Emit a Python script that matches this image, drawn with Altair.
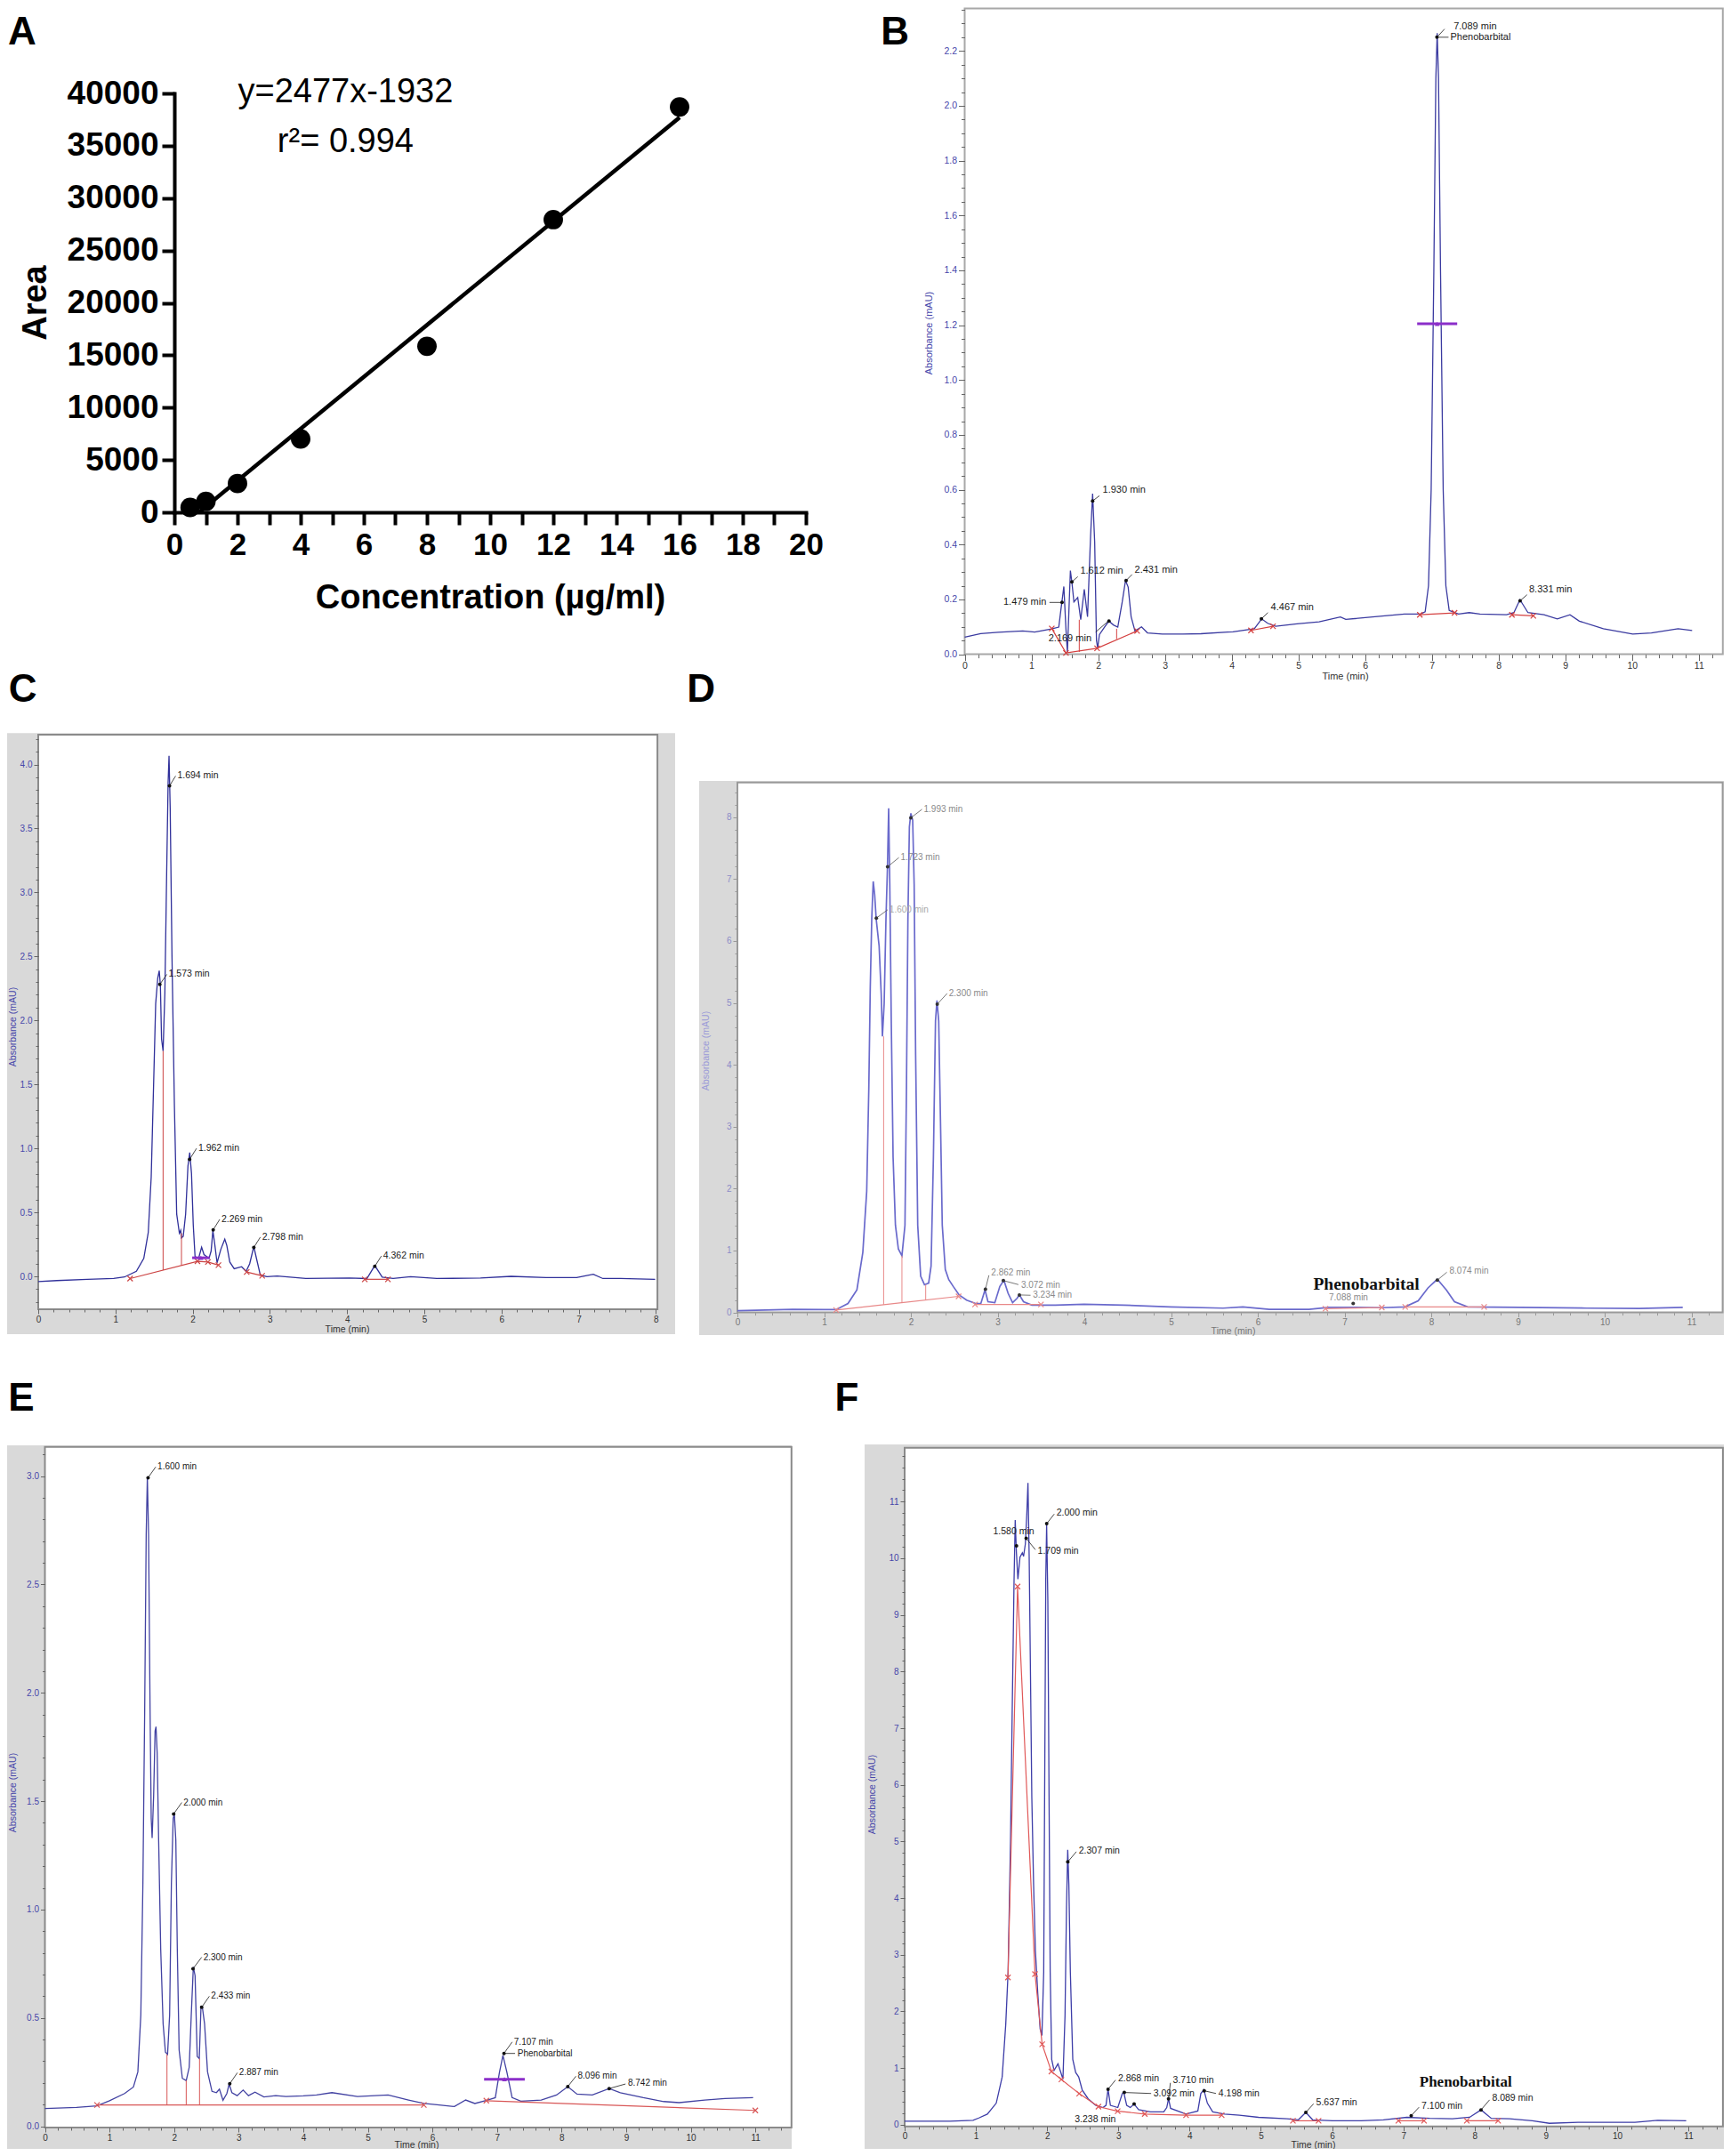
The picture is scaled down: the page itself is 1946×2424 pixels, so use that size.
import altair as alt
import pandas as pd

W, H = 1930, 2408
SANS = "Liberation Sans, Arial, Helvetica, sans-serif"
SERIF = "Liberation Serif, Times New Roman, serif"
PURPLE = "#8b2fc9"
XSHAPE = "M-1,-1L1,1M-1,1L1,-1"

# ======================= DATA =======================
# ---- Panel A : calibration curve ----
CONC = [0.5, 1, 2, 4, 8, 12, 16]
AREA = [470, 1050, 2750, 7000, 15850, 27950, 38700]
FIT_X = [0.8, 16.0]
FIT_Y = [50, 37700]
A_XTICKS = list(range(0, 21))
A_YTICKS = [0, 5000, 10000, 15000, 20000, 25000, 30000, 35000, 40000]
A_NOTES = ["y=2477x-1932", "r\u00b2= 0.994"]
A_NOTE_X = [5.42, 5.42]
A_NOTE_Y = [39170, 34410]

# ---- Panel B ----
B_T = [0.00, 0.24, 0.50, 0.87, 1.05, 1.30, 1.41, 1.44, 1.486, 1.517, 1.539, 1.584, 1.606, 1.637, 1.694,
       1.739, 1.792, 1.841, 1.886, 1.917, 1.948, 1.975, 1.993, 2.019, 2.095, 2.161, 2.228, 2.294, 2.361,
       2.410, 2.450, 2.494, 2.552, 2.65, 2.739, 2.962, 3.27, 3.54, 3.94, 4.02, 4.34, 4.45, 4.54, 4.66,
       4.98, 5.31, 5.63, 5.71, 6.11, 6.59, 6.83, 6.90, 6.95, 6.99, 7.03, 7.06, 7.08, 7.10, 7.13, 7.17,
       7.21, 7.26, 7.40, 7.56, 7.72, 8.12, 8.23, 8.32, 8.44, 8.68, 8.88, 9.07, 9.21, 9.57, 10.01, 10.29,
       10.69, 10.90]
B_V = [0.062, 0.075, 0.080, 0.085, 0.081, 0.092, 0.099, 0.159, 0.247, 0.094, 0.007, 0.305, 0.264, 0.191,
       0.207, 0.126, 0.237, 0.137, 0.429, 0.586, 0.408, 0.050, 0.023, 0.072, 0.099, 0.121, 0.107, 0.099,
       0.191, 0.269, 0.245, 0.137, 0.085, 0.100, 0.078, 0.074, 0.074, 0.075, 0.081, 0.082, 0.093, 0.129,
       0.113, 0.102, 0.111, 0.118, 0.136, 0.127, 0.136, 0.147, 0.147, 0.155, 0.25, 0.6, 1.4, 2.1, 2.265,
       2.1, 1.4, 0.6, 0.25, 0.16, 0.147, 0.152, 0.147, 0.144, 0.152, 0.199, 0.152, 0.144, 0.129, 0.144,
       0.121, 0.093, 0.074, 0.078, 0.093, 0.087]
B_BASE = [[(1.305, 0.094), (1.518, 0.005), (1.984, 0.022), (2.584, 0.085)],
          [(4.29, 0.087), (4.62, 0.102)],
          [(6.82, 0.144), (7.34, 0.151)],
          [(8.20, 0.144), (8.52, 0.140)]]
B_DROPS = [(1.717, 0.0085, 0.126), (2.277, 0.055, 0.093)]
B_BAR = (6.78, 7.38, 1.205)
B_DOT_T = [7.076, 1.917, 1.606, 2.419, 2.162, 1.459, 4.446, 8.322]
B_DOT_V = [2.25, 0.559, 0.264, 0.269, 0.121, 0.189, 0.129, 0.195]
B_LEAD = [(7.076, 2.25, 7.19, 2.28), (7.076, 2.25, 7.25, 2.25), (1.917, 0.559, 2.019, 0.578),
          (1.606, 0.264, 1.695, 0.283), (2.419, 0.269, 2.508, 0.291), (1.962, 0.081, 2.139, 0.118),
          (1.27, 0.189, 1.447, 0.189), (4.446, 0.129, 4.543, 0.152), (8.322, 0.195, 8.426, 0.217)]
B_LAB = ["7.089 min", "Phenobarbital", "1.930 min", "1.612 min", "2.431 min", "2.169 min", "4.467 min", "8.331 min"]
B_LAB_T = [7.30, 7.25, 2.04, 1.705, 2.52, 1.229, 4.56, 8.43]
B_LAB_V = [2.29, 2.25, 0.598, 0.303, 0.308, 0.058, 0.171, 0.234]
B_RLAB = ["1.479 min"]
B_RLAB_T = [1.25]
B_RLAB_V = [0.189]
B_XMAJOR = list(range(0, 12))
B_YMAJOR = [0.0, 0.2, 0.4, 0.6, 0.8, 1.0, 1.2, 1.4, 1.6, 1.8, 2.0, 2.2]

# ---- Panel C ----
C_T = [0.0, 0.24, 0.636, 0.976, 1.117, 1.271, 1.367, 1.425, 1.463, 1.494, 1.521, 1.548, 1.567, 1.582,
       1.597, 1.617, 1.640, 1.663, 1.682, 1.694, 1.709, 1.732, 1.763, 1.793, 1.828, 1.845, 1.855, 1.878,
       1.909, 1.939, 1.962, 1.985, 2.008, 2.031, 2.077, 2.116, 2.147, 2.212, 2.239, 2.262, 2.285, 2.316,
       2.366, 2.416, 2.442, 2.481, 2.538, 2.634, 2.692, 2.738, 2.792, 2.826, 2.876, 2.961, 3.095, 3.465,
       4.031, 4.257, 4.359, 4.455, 4.597, 4.823, 5.162, 5.728, 6.124, 6.577, 6.973, 7.189, 7.313, 7.539,
       7.99]
C_V = [-0.040, -0.033, -0.023, -0.017, -0.005, 0.040, 0.141, 0.343, 0.775, 1.496, 2.130, 2.332, 2.389,
       2.274, 1.856, 1.761, 2.216, 3.139, 3.860, 4.067, 3.658, 2.505, 1.352, 0.487, 0.337, 0.36, 0.30,
       0.314, 0.487, 0.862, 0.968, 0.804, 0.400, 0.155, 0.141, 0.227, 0.170, 0.141, 0.198, 0.357, 0.256,
       0.106, 0.213, 0.291, 0.242, 0.112, 0.060, 0.075, 0.040, 0.098, 0.233, 0.141, 0.011, -0.003, 0.003,
       -0.017, -0.013, -0.017, 0.085, -0.006, -0.017, -0.003, -0.017, -0.013, 0.0, -0.010, -0.010, 0.017,
       -0.017, -0.017, -0.023]
C_BASE = [[(1.19, -0.017), (2.062, 0.118), (2.198, 0.112), (2.334, 0.088)],
          [(2.70, 0.034), (2.90, 0.004)],
          [(4.229, -0.023), (4.529, -0.023)]]
C_DROPS = [(1.617, 0.049, 1.761), (1.855, 0.086, 0.337)]
C_BAR = (1.994, 2.22, 0.145)
C_DOT_T = [1.70, 1.575, 1.96, 2.266, 2.792, 4.359]
C_DOT_V = [3.833, 2.282, 0.914, 0.364, 0.226, 0.078]
C_LAB = ["1.694 min", "1.573 min", "1.962 min", "2.269 min", "2.798 min", "4.362 min"]
C_LAB_T = [1.779, 1.666, 2.05, 2.35, 2.877, 4.444]
C_LAB_V = [3.910, 2.360, 1.0, 0.445, 0.307, 0.159]
C_XMAJOR = list(range(0, 9))
C_YMAJOR = [0.0, 0.5, 1.0, 1.5, 2.0, 2.5, 3.0, 3.5, 4.0]

# ---- Panel D ----
D_T = [0.0, 0.64, 1.0, 1.138, 1.275, 1.378, 1.446, 1.491, 1.515, 1.532, 1.549, 1.566, 1.583, 1.60, 1.634,
       1.658, 1.672, 1.692, 1.713, 1.730, 1.744, 1.757, 1.774, 1.795, 1.822, 1.856, 1.897, 1.932, 1.949,
       1.966, 1.983, 2.0, 2.021, 2.038, 2.055, 2.079, 2.113, 2.157, 2.205, 2.233, 2.26, 2.284, 2.301,
       2.321, 2.342, 2.362, 2.397, 2.437, 2.489, 2.557, 2.643, 2.745, 2.807, 2.855, 2.889, 2.968, 3.026,
       3.073, 3.121, 3.173, 3.224, 3.251, 3.299, 3.395, 3.668, 3.997, 4.455, 4.99, 5.6, 5.828, 6.133, 6.59,
       6.82, 7.124, 7.429, 7.696, 7.849, 7.963, 8.07, 8.176, 8.268, 8.42, 9.03, 9.793, 10.40, 10.90]
D_V = [0.028, 0.049, 0.045, 0.046, 0.145, 0.365, 0.97, 1.96, 3.61, 5.26, 6.36, 6.963, 6.743, 6.358, 5.918,
       5.149, 4.461, 4.984, 6.358, 7.183, 8.145, 6.908, 4.709, 2.51, 1.41, 1.025, 0.915, 1.41, 3.61, 6.358,
       7.842, 8.062, 7.952, 6.908, 4.159, 1.41, 0.585, 0.448, 0.475, 0.75, 2.51, 4.709, 5.04, 4.709, 3.06,
       1.41, 0.695, 0.53, 0.42, 0.283, 0.2, 0.145, 0.145, 0.365, 0.173, 0.157, 0.42, 0.52, 0.31, 0.157,
       0.228, 0.283, 0.173, 0.118, 0.118, 0.132, 0.118, 0.09, 0.07, 0.09, 0.049, 0.049, 0.083, 0.083,
       0.077, 0.09, 0.188, 0.397, 0.536, 0.362, 0.174, 0.09, 0.083, 0.07, 0.063, 0.083]
D_BASE = [[(1.138, 0.04), (2.55, 0.26)], [(2.74, 0.13), (3.5, 0.13)],
          [(6.78, 0.06), (7.43, 0.08)], [(7.70, 0.09), (8.61, 0.09)]]
D_DROPS = [(1.686, 0.125, 4.46), (1.897, 0.158, 0.915), (2.171, 0.201, 0.448)]
D_DOT_T = [2.0, 1.732, 1.602, 2.304, 2.86, 3.066, 3.251, 7.1, 8.07]
D_DOT_V = [7.99, 7.2, 6.37, 4.979, 0.376, 0.515, 0.283, 0.146, 0.522]
D_LEAD = [(2.0, 7.99, 2.128, 8.127), (1.732, 7.2, 1.862, 7.347), (1.602, 6.37, 1.732, 6.504),
          (2.304, 4.979, 2.418, 5.153), (2.86, 0.376, 2.9, 0.6), (3.066, 0.515, 3.24, 0.45),
          (3.251, 0.283, 3.38, 0.278), (8.07, 0.522, 8.18, 0.65)]
D_LAB = ["1.993 min", "1.723 min", "2.300 min", "2.862 min", "3.072 min", "3.234 min", "7.088 min", "8.074 min"]
D_LAB_T = [2.128, 1.862, 2.418, 2.906, 3.25, 3.387, 6.80, 8.19]
D_LAB_V = [8.127, 7.347, 5.153, 0.64, 0.438, 0.278, 0.235, 0.675]
D_FAINT = ["1.600 min"]
D_FAINT_T = [1.732]
D_FAINT_V = [6.504]
D_SERIF = ["Phenobarbital"]
D_SERIF_T = [6.64]
D_SERIF_V = [0.46]
D_XMAJOR = list(range(0, 12))
D_YMAJOR = list(range(0, 9))

# ---- Panel E ----
E_T = [0.0, 0.49, 0.807, 1.00, 1.233, 1.37, 1.439, 1.485, 1.517, 1.545, 1.568, 1.586, 1.605, 1.628, 1.646,
       1.66, 1.683, 1.706, 1.72, 1.738, 1.761, 1.793, 1.83, 1.866, 1.899, 1.931, 1.958, 1.986, 2.004, 2.027,
       2.05, 2.078, 2.128, 2.188, 2.234, 2.266, 2.298, 2.325, 2.358, 2.39, 2.417, 2.436, 2.472, 2.518,
       2.587, 2.656, 2.702, 2.757, 2.817, 2.853, 2.895, 2.977, 3.069, 3.152, 3.253, 3.391, 3.574, 3.732,
       4.0, 4.206, 4.444, 4.839, 5.314, 5.63, 5.867, 6.104, 6.341, 6.515, 6.657, 6.855, 6.974, 7.037,
       7.092, 7.155, 7.234, 7.369, 7.685, 7.922, 8.096, 8.239, 8.476, 8.737, 8.91, 9.266, 9.582, 9.82,
       10.215, 10.53, 10.966]
E_V = [0.082, 0.087, 0.094, 0.118, 0.151, 0.181, 0.251, 0.513, 1.118, 1.925, 2.731, 2.997, 2.731, 1.925,
       1.421, 1.33, 1.522, 1.824, 1.844, 1.723, 1.32, 0.816, 0.473, 0.342, 0.332, 0.513, 1.118, 1.421,
       1.441, 1.32, 0.816, 0.352, 0.221, 0.211, 0.272, 0.513, 0.735, 0.695, 0.322, 0.312, 0.554, 0.554,
       0.473, 0.251, 0.161, 0.155, 0.171, 0.12, 0.151, 0.195, 0.155, 0.141, 0.167, 0.141, 0.157, 0.135,
       0.141, 0.137, 0.14, 0.144, 0.155, 0.137, 0.144, 0.121, 0.105, 0.098, 0.091, 0.121, 0.105, 0.121,
       0.132, 0.247, 0.327, 0.247, 0.132, 0.116, 0.121, 0.144, 0.183, 0.148, 0.144, 0.174, 0.155, 0.132,
       0.114, 0.109, 0.121, 0.128, 0.132]
E_BASE = [[(0.807, 0.098), (5.867, 0.098)], [(6.835, 0.118), (11.0, 0.073)]]
E_DROPS = [(1.89, 0.098, 0.332), (2.188, 0.098, 0.211), (2.394, 0.098, 0.312)]
E_BAR = (6.80, 7.43, 0.217)
E_DOT_T = [1.597, 1.993, 2.293, 2.427, 2.862, 7.108, 8.096, 8.737]
E_DOT_V = [2.993, 1.441, 0.727, 0.549, 0.196, 0.336, 0.183, 0.174]
E_LEAD = [(1.597, 2.993, 1.716, 3.043), (1.993, 1.441, 2.119, 1.494), (2.293, 0.727, 2.427, 0.78),
          (2.427, 0.549, 2.546, 0.6), (2.862, 0.196, 2.98, 0.247), (7.108, 0.336, 7.235, 0.389),
          (7.108, 0.336, 7.28, 0.336), (8.096, 0.183, 8.223, 0.231), (8.737, 0.174, 8.99, 0.195)]
E_LAB = ["1.600 min", "2.000 min", "2.300 min", "2.433 min", "2.887 min", "7.107 min", "Phenobarbital",
         "8.096 min", "8.742 min"]
E_LAB_T = [1.716, 2.119, 2.427, 2.546, 2.98, 7.235, 7.29, 8.223, 9.0]
E_LAB_V = [3.043, 1.494, 0.78, 0.6, 0.247, 0.389, 0.336, 0.231, 0.201]
E_XMAJOR = list(range(0, 12))
E_YMAJOR = [0.0, 0.5, 1.0, 1.5, 2.0, 2.5, 3.0]

# ---- Panel F ----
F_T = [0.0, 0.64, 0.96, 1.041, 1.161, 1.286, 1.369, 1.419, 1.452, 1.486, 1.51, 1.536, 1.552, 1.569, 1.59,
       1.619, 1.652, 1.669, 1.694, 1.715, 1.731, 1.748, 1.765, 1.785, 1.81, 1.835, 1.869, 1.902, 1.927,
       1.952, 1.968, 1.981, 1.993, 2.01, 2.027, 2.043, 2.064, 2.097, 2.152, 2.193, 2.222, 2.251, 2.272,
       2.289, 2.305, 2.326, 2.36, 2.401, 2.443, 2.493, 2.576, 2.68, 2.784, 2.826, 2.855, 2.888, 2.992,
       3.055, 3.075, 3.117, 3.167, 3.221, 3.284, 3.45, 3.637, 3.679, 3.704, 3.733, 3.949, 4.115, 4.157,
       4.199, 4.249, 4.324, 4.49, 4.698, 4.966, 5.366, 5.527, 5.631, 5.727, 6.007, 6.408, 6.72, 7.048,
       7.369, 7.689, 7.93, 8.09, 8.234, 8.49, 8.81, 9.05, 9.452, 10.25, 10.57, 10.97]
F_V = [0.062, 0.062, 0.079, 0.12, 0.189, 0.382, 0.844, 1.77, 2.694, 5.007, 7.32, 9.632, 10.673, 10.095,
       9.632, 10.018, 10.095, 10.033, 10.249, 10.789, 11.328, 10.018, 8.09, 5.778, 4.236, 3.079, 2.309,
       1.692, 1.576, 2.694, 6.548, 9.632, 10.596, 9.247, 5.778, 2.694, 1.152, 0.959, 1.075, 0.921, 0.805,
       1.923, 3.85, 4.853, 4.236, 2.694, 1.152, 0.921, 0.844, 0.612, 0.458, 0.343, 0.304, 0.343, 0.628,
       0.343, 0.304, 0.551, 0.574, 0.343, 0.304, 0.366, 0.266, 0.227, 0.227, 0.304, 0.458, 0.289, 0.189,
       0.243, 0.551, 0.62, 0.382, 0.227, 0.189, 0.170, 0.132, 0.106, 0.088, 0.219, 0.088, 0.07, 0.07,
       0.088, 0.132, 0.114, 0.106, 0.132, 0.263, 0.114, 0.106, 0.07, 0.026, 0.044, 0.044, 0.079, 0.07]
F_BASE = [[(1.45, 2.6), (1.585, 9.5), (1.83, 2.66), (1.93, 1.42), (2.06, 0.94), (2.2, 0.8), (2.45, 0.55),
           (2.72, 0.32), (2.99, 0.24), (3.37, 0.19), (3.95, 0.17), (4.45, 0.17)],
          [(5.45, 0.07), (5.81, 0.07)], [(6.93, 0.07), (7.29, 0.07)], [(7.89, 0.07), (8.33, 0.07)]]
F_DOT_T = [1.994, 1.57, 1.706, 2.29, 2.855, 3.083, 3.221, 3.704, 4.205, 5.631, 7.11, 8.09]
F_DOT_V = [10.61, 10.22, 10.35, 4.64, 0.628, 0.57, 0.366, 0.458, 0.6, 0.219, 0.16, 0.263]
F_LEAD = [(1.994, 10.61, 2.1, 10.78), (1.706, 10.35, 1.835, 10.15), (2.29, 4.64, 2.41, 4.82),
          (2.855, 0.628, 2.96, 0.79), (3.083, 0.57, 3.46, 0.552), (3.704, 0.458, 3.73, 0.74),
          (4.205, 0.6, 4.37, 0.552), (5.631, 0.219, 5.74, 0.37), (7.11, 0.16, 7.22, 0.31),
          (8.09, 0.263, 8.21, 0.44)]
F_LAB = ["2.000 min", "1.580 min", "1.709 min", "2.307 min", "2.868 min", "3.092 min", "3.238 min",
         "3.710 min", "4.198 min", "5.637 min", "7.100 min", "8.089 min"]
F_LAB_T = [2.107, 1.217, 1.842, 2.419, 2.97, 3.468, 2.363, 3.74, 4.38, 5.75, 7.23, 8.22]
F_LAB_V = [10.80, 10.475, 10.125, 4.84, 0.814, 0.552, 0.088, 0.78, 0.552, 0.394, 0.333, 0.465]
F_SERIF = ["Phenobarbital"]
F_SERIF_T = [7.226]
F_SERIF_V = [0.745]
F_XMAJOR = list(range(0, 12))
F_YMAJOR = list(range(0, 12))


def steps(a, b, s):
    n = int(round((b - a) / s))
    return [round(a + i * s, 4) for i in range(n + 1)]


# ======================= LAYOUT (pixel geometry) =======================
GEO = {
    "A": dict(xd=[0, 20], xr=[188, 898], yd=[0, 40000], yr=[568, 97], letter=(-4.82, 45775)),
    "B": dict(xd=[0, 11.36], xr=[1076.5, 1928.8], yd=[0, 2.355], yr=[727.6, 1.5],
              letter=(-1.046, 2.266), yt=(-40.5, 366), xt=(1504, 25)),
    "C": dict(xd=[0, 8.02], xr=[35, 731.1], yd=[-0.257, 4.233], yr=[1464, 818],
              bg=(-0.403, 8.249, -0.452, 4.246), letter=(-0.200, 4.58), yt=(-29, 1146), xt=(382, 22)),
    "D": dict(xd=[0, 11.36], xr=[821, 1928.6], yd=[0, 8.56], yr=[1467.6, 871.8],
              bg=(-0.441, 11.456, -0.365, 8.586), letter=(-0.42, 10.05), yt=(-36, 1173), xt=(1378, 20.4)),
    "E": dict(xd=[0, 11.56], xr=[42.5, 881.8], yd=[-0.006, 3.135], yr=[2384, 1618.8],
              bg=(-0.599, 11.563, -0.1375, 3.142), letter=(-0.365, 3.356), yt=(-36.5, 2007), xt=(460, 19)),
    "F": dict(xd=[0, 11.485], xr=[1009, 1928.9], yd=[-0.03, 11.95], yr=[2382.8, 1619.7],
              bg=(-0.562, 11.598, -0.52, 12.008), letter=(-0.811, 12.81), yt=(-37, 2009), xt=(1468, 20.2)),
}

BASE_STYLE = dict(bg="#d9d9d9", frame="#8a8a8a", trace="#3a3aa0", tw=1.3, red="#d44040", ink="#1a1a1a",
                  dot="#111111", lfs=10.5, fs=10, tfs=10.5, xlab="#333333", ylab="#4646aa", ytitle="#4646aa",
                  tick="#666666", major=5, minor=3, yfmt=".1f")
STYLE = {
    "B": dict(BASE_STYLE, bg=None, frame="#a8a8a8", trace="#3a3aa0", lfs=11, fs=10.5, tfs=11, major=7, minor=4),
    "C": dict(BASE_STYLE, trace="#30309a", red="#cc4444"),
    "D": dict(BASE_STYLE, frame="#9a9a9a", trace="#6a6acc", tw=1.7, red="#e88888", ink="#8a8a8a",
              dot="#333333", lfs=10, xlab="#777777", ylab="#8c8cc8", ytitle="#9a9ad8", tick="#999999", yfmt="d"),
    "E": dict(BASE_STYLE, trace="#4242a2", red="#d85656", lfs=10),
    "F": dict(BASE_STYLE, trace="#3d3da8", red="#e05858", yfmt="d"),
}


def sc(dom, rng):
    return alt.Scale(domain=dom, range=rng, nice=False, zero=False)


def XE(p, f, axis=None):
    g = GEO[p]
    return alt.X(f + ":Q", scale=sc(g["xd"], g["xr"]), axis=axis)


def YE(p, f, axis=None):
    g = GEO[p]
    return alt.Y(f + ":Q", scale=sc(g["yd"], g["yr"]), axis=axis)


def x_axis(p, values, minor):
    g, st = GEO[p], STYLE[p]
    kw = dict(orient="bottom", offset=g["yr"][0] - H, values=values, domain=False, grid=False,
              tickColor=st["tick"], tickWidth=1, zindex=1, labelFlush=False, labelOverlap=False)
    if minor:
        kw.update(tickSize=st["minor"], labels=False, title=None)
    else:
        kw.update(tickSize=st["major"], format="d", labelFont=SANS, labelFontSize=st["fs"],
                  labelColor=st["xlab"], labelPadding=1, title="Time (min)", titleFont=SANS,
                  titleFontSize=st["tfs"], titleFontWeight="normal", titleColor=st["xlab"],
                  titleX=g["xt"][0], titleY=g["xt"][1], titleAlign="center", titleBaseline="middle")
    return alt.Axis(**kw)


def y_axis(p, values, minor):
    g, st = GEO[p], STYLE[p]
    kw = dict(orient="left", offset=-g["xr"][0], values=values, domain=False, grid=False,
              tickColor=st["tick"], tickWidth=1, zindex=1, labelFlush=False, labelOverlap=False)
    if minor:
        kw.update(tickSize=st["minor"], labels=False, title=None)
    else:
        kw.update(tickSize=st["major"], format=st["yfmt"], labelFont=SANS, labelFontSize=st["fs"],
                  labelColor=st["ylab"], labelPadding=2, title="Absorbance (mAU)", titleFont=SANS,
                  titleFontSize=st["tfs"], titleFontWeight="normal", titleColor=st["ytitle"],
                  titleX=g["yt"][0], titleY=g["yt"][1], titleAngle=270, titleAlign="center",
                  titleBaseline="middle")
    return alt.Axis(**kw)


def base_df(segs):
    rows = []
    for k, seg in enumerate(segs):
        for i, (t, v) in enumerate(seg):
            rows.append({"t": t, "v": v, "seg": k, "o": i})
    return pd.DataFrame(rows)


def letter_layer(p):
    g = GEO[p]
    df = pd.DataFrame({"s": [p], "t": [g["letter"][0]], "v": [g["letter"][1]]})
    return alt.Chart(df).mark_text(font=SANS, fontSize=44, fontWeight="bold", color="black",
                                   align="center", baseline="middle").encode(
        x=XE(p, "t"), y=YE(p, "v"), text="s:N")


def text_layer(p, texts, ts, vs, **mk):
    df = pd.DataFrame({"s": texts, "t": ts, "v": vs})
    return alt.Chart(df).mark_text(**mk).encode(x=XE(p, "t"), y=YE(p, "v"), text="s:N")


def chromatogram(p, d):
    g, st = GEO[p], STYLE[p]
    Ls = []
    if g.get("bg"):
        x0, x1, y0, y1 = g["bg"]
        Ls.append(alt.Chart(pd.DataFrame({"a": [x0], "b": [x1], "c": [y0], "e": [y1]}))
                  .mark_rect(color=st["bg"]).encode(x=XE(p, "a"), x2=alt.X2("b"), y=YE(p, "c"), y2=alt.Y2("e")))
    fr = pd.DataFrame({"a": [g["xd"][0]], "b": [g["xd"][1]], "c": [g["yd"][0]], "e": [g["yd"][1]]})
    Ls.append(alt.Chart(fr).mark_rect(fill="white", stroke=st["frame"], strokeWidth=2).encode(
        x=XE(p, "a", x_axis(p, d["xmajor"], False)), x2=alt.X2("b"),
        y=YE(p, "c", y_axis(p, d["ymajor"], False)), y2=alt.Y2("e")))
    tr = pd.DataFrame({"t": d["T"], "v": d["V"], "o": list(range(len(d["T"])))})
    Ls.append(alt.Chart(tr).mark_line(color=st["trace"], strokeWidth=st["tw"]).encode(
        x=XE(p, "t", x_axis(p, d["xminor"], True)), y=YE(p, "v", y_axis(p, d["yminor"], True)),
        order="o:Q"))
    bl = base_df(d["base"])
    Ls.append(alt.Chart(bl).mark_line(color=st["red"], strokeWidth=1.2).encode(
        x=XE(p, "t"), y=YE(p, "v"), detail="seg:N", order="o:Q"))
    Ls.append(alt.Chart(bl).mark_point(shape=XSHAPE, size=36, filled=False, color=st["red"],
                                       strokeWidth=1.2, opacity=1).encode(x=XE(p, "t"), y=YE(p, "v")))
    if d.get("drops"):
        dr = pd.DataFrame(d["drops"], columns=["t", "v0", "v1"])
        Ls.append(alt.Chart(dr).mark_rule(color=st["red"], strokeWidth=1).encode(
            x=XE(p, "t"), y=YE(p, "v0"), y2=alt.Y2("v1")))
    if d.get("bar"):
        t0, t1, v = d["bar"]
        Ls.append(alt.Chart(pd.DataFrame({"t0": [t0], "t1": [t1], "v": [v]})).mark_rule(
            color=PURPLE, strokeWidth=3).encode(x=XE(p, "t0"), x2=alt.X2("t1"), y=YE(p, "v")))
        Ls.append(alt.Chart(pd.DataFrame({"t": [(t0 + t1) / 2], "v": [v]})).mark_point(
            shape="triangle-up", filled=True, size=30, color=PURPLE, opacity=1).encode(
            x=XE(p, "t"), y=YE(p, "v")))
    ld = pd.DataFrame(d["lead"], columns=["t0", "v0", "t1", "v1"])
    Ls.append(alt.Chart(ld).mark_rule(color=st["ink"] if p != "D" else "#555555", strokeWidth=0.8).encode(
        x=XE(p, "t0"), x2=alt.X2("t1"), y=YE(p, "v0"), y2=alt.Y2("v1")))
    dt = pd.DataFrame({"t": d["dot_t"], "v": d["dot_v"]})
    Ls.append(alt.Chart(dt).mark_circle(size=16, color=st["dot"], opacity=1).encode(x=XE(p, "t"), y=YE(p, "v")))
    Ls.append(text_layer(p, d["lab"], d["lab_t"], d["lab_v"], align="left", baseline="middle", dx=2,
                         font=SANS, fontSize=st["lfs"], color=st["ink"]))
    if d.get("rlab"):
        Ls.append(text_layer(p, d["rlab"][0], d["rlab"][1], d["rlab"][2], align="right", baseline="middle",
                             dx=-2, font=SANS, fontSize=st["lfs"], color=st["ink"]))
    if d.get("faint"):
        Ls.append(text_layer(p, d["faint"][0], d["faint"][1], d["faint"][2], align="left", baseline="middle",
                             dx=2, font=SANS, fontSize=st["lfs"], color="#aaaaaa"))
    if d.get("serif"):
        Ls.append(text_layer(p, d["serif"][0], d["serif"][1], d["serif"][2], align="left", baseline="middle",
                             font=SERIF, fontSize=d["serif_size"], fontWeight="bold", color="#111111"))
    Ls.append(letter_layer(p))
    return Ls


def leads_from(dts, dvs, lts, lvs):
    return [(a, b, c, e) for a, b, c, e in zip(dts, dvs, lts, lvs)]


PANELS = {
    "B": dict(T=B_T, V=B_V, base=B_BASE, drops=B_DROPS, bar=B_BAR, dot_t=B_DOT_T, dot_v=B_DOT_V,
              lead=B_LEAD, lab=B_LAB, lab_t=B_LAB_T, lab_v=B_LAB_V, rlab=(B_RLAB, B_RLAB_T, B_RLAB_V),
              xmajor=B_XMAJOR, ymajor=B_YMAJOR, xminor=steps(0, 11.2, 0.2), yminor=steps(0, 2.35, 0.05)),
    "C": dict(T=C_T, V=C_V, base=C_BASE, drops=C_DROPS, bar=C_BAR, dot_t=C_DOT_T, dot_v=C_DOT_V,
              lead=leads_from(C_DOT_T, C_DOT_V, C_LAB_T, C_LAB_V), lab=C_LAB, lab_t=C_LAB_T, lab_v=C_LAB_V,
              xmajor=C_XMAJOR, ymajor=C_YMAJOR, xminor=steps(0, 8, 0.2), yminor=steps(-0.2, 4.2, 0.1)),
    "D": dict(T=D_T, V=D_V, base=D_BASE, drops=D_DROPS, dot_t=D_DOT_T, dot_v=D_DOT_V, lead=D_LEAD,
              lab=D_LAB, lab_t=D_LAB_T, lab_v=D_LAB_V, faint=(D_FAINT, D_FAINT_T, D_FAINT_V),
              serif=(D_SERIF, D_SERIF_T, D_SERIF_V), serif_size=19.5,
              xmajor=D_XMAJOR, ymajor=D_YMAJOR, xminor=steps(0, 11.2, 0.2), yminor=steps(0, 8.4, 0.2)),
    "E": dict(T=E_T, V=E_V, base=E_BASE, drops=E_DROPS, bar=E_BAR, dot_t=E_DOT_T, dot_v=E_DOT_V,
              lead=E_LEAD, lab=E_LAB, lab_t=E_LAB_T, lab_v=E_LAB_V,
              xmajor=E_XMAJOR, ymajor=E_YMAJOR, xminor=steps(0, 11.4, 0.2), yminor=steps(0, 3.1, 0.1)),
    "F": dict(T=F_T, V=F_V, base=F_BASE, dot_t=F_DOT_T, dot_v=F_DOT_V, lead=F_LEAD,
              lab=F_LAB, lab_t=F_LAB_T, lab_v=F_LAB_V, serif=(F_SERIF, F_SERIF_T, F_SERIF_V), serif_size=17,
              xmajor=F_XMAJOR, ymajor=F_YMAJOR, xminor=steps(0, 11.4, 0.2), yminor=steps(0, 11.8, 0.2)),
}

# ======================= PANEL A =======================
axA_x = alt.Axis(orient="bottom", offset=GEO["A"]["yr"][0] - H, values=A_XTICKS, format="d",
                 labelExpr="datum.value % 2 === 0 ? datum.label : ''",
                 tickSize=14, tickWidth=4, tickColor="black", domain=True, domainWidth=4, domainColor="black",
                 domainCap="square", labelFont=SANS, labelFontSize=35, labelFontWeight="bold",
                 labelColor="black", labelPadding=5, labelFlush=False, labelOverlap=False, grid=False,
                 title="Concentration (\u00b5g/ml)", titleFont=SANS, titleFontSize=38, titleFontWeight="bold",
                 titleColor="black", titleX=543, titleY=96, titleAlign="center", titleBaseline="middle",
                 zindex=1)
axA_y = alt.Axis(orient="left", offset=-GEO["A"]["xr"][0], values=A_YTICKS, format="d",
                 tickSize=14, tickWidth=4, tickColor="black", domain=True, domainWidth=4, domainColor="black",
                 domainCap="square", labelFont=SANS, labelFontSize=37, labelFontWeight="bold",
                 labelColor="black", labelPadding=4, labelFlush=False, labelOverlap=False, grid=False,
                 title="Area", titleFont=SANS, titleFontSize=38, titleFontWeight="bold", titleColor="black",
                 titleX=-156, titleY=332, titleAngle=270, titleAlign="center", titleBaseline="middle",
                 zindex=1)

layers = [
    alt.Chart(pd.DataFrame({"t": FIT_X, "v": FIT_Y})).mark_line(color="black", strokeWidth=4.5).encode(
        x=XE("A", "t", axA_x), y=YE("A", "v", axA_y)),
    alt.Chart(pd.DataFrame({"t": CONC, "v": AREA})).mark_circle(size=480, color="black", opacity=1).encode(
        x=XE("A", "t"), y=YE("A", "v")),
    text_layer("A", A_NOTES, A_NOTE_X, A_NOTE_Y, font=SANS, fontSize=38, align="center",
               baseline="alphabetic", color="black"),
    letter_layer("A"),
]

for key in ["B", "C", "D", "E", "F"]:
    layers += chromatogram(key, PANELS[key])

chart = (alt.layer(*layers)
         .resolve_scale(x="independent", y="independent")
         .resolve_axis(x="independent", y="independent")
         .properties(width=W, height=H, padding=0, background="white",
                     autosize=alt.AutoSizeParams(type="none"))
         .configure_view(strokeWidth=0, strokeOpacity=0))

chart.save("out.html", embed_options={"renderer": "svg", "actions": False})
